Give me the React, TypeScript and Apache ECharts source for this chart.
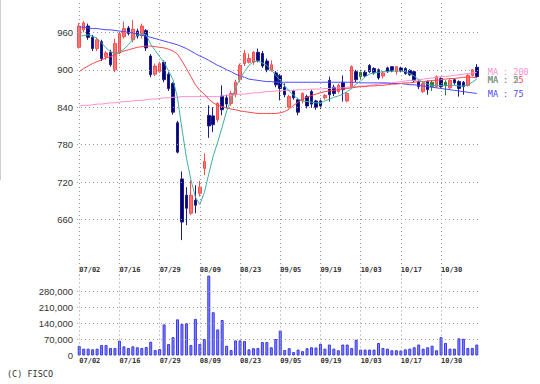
import React, { useEffect, useRef } from 'react';
import * as echarts from 'echarts';

const dates = [
  '07/02','07/03','07/04','07/05','07/08','07/09','07/10','07/11','07/12','07/16',
  '07/17','07/18','07/19','07/22','07/23','07/24','07/25','07/26','07/29','07/30',
  '07/31','08/01','08/02','08/05','08/06','08/07','08/08','08/09','08/13','08/14',
  '08/15','08/16','08/19','08/20','08/21','08/22','08/23','08/26','08/27','08/28',
  '08/29','08/30','09/02','09/03','09/04','09/05','09/06','09/09','09/10','09/11',
  '09/12','09/13','09/17','09/18','09/19','09/20','09/24','09/25','09/26','09/27',
  '09/30','10/01','10/02','10/03','10/04','10/07','10/08','10/09','10/10','10/11',
  '10/15','10/16','10/17','10/18','10/21','10/22','10/23','10/24','10/25','10/28',
  '10/29','10/30','10/31','11/01','11/05','11/06','11/07','11/08','11/11','11/12',
];

const opens = [
  936,964,970,952,934,945,921,928,900,928,
  953,967,948,962,955,963,922,893,897,912,
  893,878,815,725,699,670,691,702,742,827,
  826,820,858,855,846,860,884,910,912,912,
  928,926,914,899,895,891,872,840,866,852,
  850,857,865,850,850,855,883,872,865,880,
  850,873,897,896,896,907,902,900,890,903,
  905,897,903,902,899,897,881,865,881,880,
  873,886,880,871,884,881,880,875,891,904,
];
const closes = [
  970,975,952,934,948,918,927,908,942,958,
  966,958,965,954,970,935,892,906,910,884,
  870,832,768,656,678,699,683,712,753,810,
  812,846,836,845,862,880,907,926,918,928,
  915,906,900,908,876,870,860,857,855,832,
  862,842,845,840,842,859,860,862,875,868,
  862,905,884,889,890,897,895,887,895,897,
  898,905,898,894,892,883,873,878,868,873,
  889,873,874,883,879,870,873,891,900,889,
];
const lows = [
  934,960,948,930,930,914,916,905,896,925,
  950,955,944,950,950,930,888,890,895,880,
  866,828,766,627,651,667,670,697,731,791,
  800,816,827,838,842,856,880,906,910,908,
  912,903,896,897,872,851,856,838,852,827,
  846,838,839,836,837,852,849,858,862,849,
  848,870,880,885,888,895,892,884,886,895,
  896,892,896,892,890,880,869,863,860,866,
  871,871,859,869,876,857,860,873,889,887,
];
const highs = [
  975,978,974,956,952,948,930,932,950,962,
  977,970,980,966,974,965,925,910,913,915,
  896,880,818,737,712,723,715,722,766,843,
  840,848,875,860,866,884,910,932,926,930,
  934,930,918,915,898,893,878,860,868,855,
  864,860,868,852,854,861,889,876,878,891,
  864,907,900,900,899,909,904,902,897,905,
  906,906,905,904,901,899,883,880,883,882,
  891,888,883,885,886,883,882,893,901,909,
];
const greenDays = ['10/03', '10/28', '10/31'];

const volumes = [
  42000,30000,30000,27000,30000,46000,46000,33000,33000,65000,
  40000,33000,40000,36000,33000,37000,60000,24000,28000,136000,
  50000,80000,158000,138000,141000,46000,160000,50000,72000,349000,
  189000,114000,155000,43000,24000,66000,66000,63000,27000,32000,
  33000,59000,59000,36000,72000,109000,24000,32000,15000,26000,
  19000,32000,36000,35000,51000,30000,48000,30000,23000,48000,
  48000,33000,69000,26000,26000,26000,26000,55000,33000,30000,
  23000,23000,22000,27000,30000,36000,48000,30000,36000,43000,
  23000,80000,55000,30000,30000,75000,73000,33000,33000,48000,
];

const ma5 = [
  953,955,956,954,950,943,935,929,926,928,
  933,940,949,955,958,956,941,931,921,912,
  898,884,855,805,759,724,696,684,703,733,
  762,784,808,834,852,870,886,897,907,913,
  914,911,907,900,891,883,874,866,859,853,
  850,849,848,847,847,850,853,856,858,861,
  865,870,877,882,889,893,895,896,897,897,
  898,898,898,897,894,890,884,880,877,875,
  875,875,875,875,875,874,874,876,880,885,
];
const ma25 = [
  897,902,906,910,913,916,919,921,924,927,
  930,932,934,936,937,938,938,937,936,935,
  933,930,925,914,902,889,876,867,861,853,
  847,843,841,839,837,836,834,833,832,831,
  830,830,830,830,830,831,833,837,843,848,
  853,856,859,861,863,865,866,867,868,869,
  870,871,872,873,873,874,874,875,875,876,
  877,877,878,879,879,880,881,881,882,883,
  883,884,885,886,886,887,888,888,888,887,
];
const ma75 = [
  969,968,967,966,966,965,964,964,963,962,
  961,960,959,957,955,954,952,950,948,946,
  944,942,940,937,934,930,926,922,919,915,
  911,907,904,900,897,893,890,888,885,884,
  883,882,881,881,880,880,880,880,880,880,
  880,880,880,880,880,880,880,880,880,880,
  880,880,880,879,879,879,879,879,879,879,
  878,878,878,877,876,876,875,874,873,872,
  871,870,869,868,867,866,865,864,863,862,
];
const ma200 = [
  842,843,843,844,845,845,846,847,847,848,
  849,849,850,851,851,852,853,853,854,855,
  855,856,856,857,857,857,857,857,857,857,
  857,857,858,859,859,860,861,861,862,863,
  863,864,865,865,866,866,867,867,867,868,
  868,868,869,869,869,870,870,871,871,871,
  872,872,873,874,874,875,876,877,878,878,
  879,880,881,882,883,883,884,885,886,887,
  888,889,889,890,891,892,893,894,895,896,
];

const priceTicks = [660, 720, 780, 840, 900, 960];
const volumeTicks = [0, 70000, 140000, 210000, 280000];
const labelDates = ['07/02', '07/16', '07/29', '08/09', '08/23', '09/05', '09/19', '10/03', '10/17', '10/30'];

const GRID_LINE = { color: '#9a9a9a', type: [1, 3] as number[], width: 1 };
const AXIS_FONT = { fontFamily: 'Liberation Sans', fontSize: 9.5, color: '#333' };
const DATE_FONT = { fontFamily: 'DejaVu Sans Mono', fontSize: 7, fontWeight: 'bold' as const, color: '#333' };
const MA_FONT = { fontFamily: 'DejaVu Sans Mono', fontSize: 8.5 };

export default function App() {
  const ref = useRef<HTMLDivElement>(null);
  useEffect(() => {
    const chart = echarts.init(ref.current!, null, { renderer: 'svg', width: 540, height: 384 });
    const green = { color: '#2f7d32', color0: '#2f7d32', borderColor: '#2f7d32', borderColor0: '#2f7d32' };
    const candleData = dates.map((d, i) => {
      const item: any = { value: [opens[i], closes[i], lows[i], highs[i]] };
      if (greenDays.includes(d)) item.itemStyle = green;
      return item;
    });
    const maLine = (name: string, data: number[], color: string, label: string, dy: number) => ({
      type: 'line', name, data, xAxisIndex: 0, yAxisIndex: 0, showSymbol: false, symbol: 'none',
      lineStyle: { color, width: 1 }, z: 3,
      endLabel: { show: true, formatter: label, color, distance: 11, offset: [0, dy], ...MA_FONT },
    });
    const xCommon = {
      type: 'category', data: dates, boundaryGap: true,
      axisLine: { show: false }, axisTick: { show: false }, splitLine: { show: false },
    };
    const yHidden = {
      type: 'value', axisLine: { show: false }, axisTick: { show: false },
      axisLabel: { show: false }, splitLine: { show: false },
    };
    const option: any = {
      animation: false,
      backgroundColor: '#ffffff',
      grid: [
        { left: 77, top: 0, width: 402, height: 276 },
        { left: 77, top: 274, width: 402, height: 81.5 },
      ],
      xAxis: [
        { ...xCommon, gridIndex: 0,
          axisLabel: { inside: true, interval: (i: number) => i % 9 === 0, align: 'left', margin: 3, ...DATE_FONT } },
        { ...xCommon, gridIndex: 1,
          axisLabel: { interval: (i: number) => i % 9 === 0, align: 'left', margin: 2, ...DATE_FONT } },
      ],
      yAxis: [
        { ...yHidden, gridIndex: 0, min: 569.5, max: 1011.8 },
        { ...yHidden, gridIndex: 1, min: 0, max: 356000 },
      ],
      series: [
        {
          type: 'candlestick', xAxisIndex: 0, yAxisIndex: 0, data: candleData, barWidth: 3,
          itemStyle: { color: '#ff7373', color0: '#00007a', borderColor: '#ff4d4d', borderColor0: '#1c1c8a', borderWidth: 1 },
          markLine: {
            silent: true, symbol: ['none', 'none'], animation: false,
            lineStyle: GRID_LINE, label: { show: false },
            data: [
              ...priceTicks.map((v) => ({ yAxis: v, label: { show: true, position: 'start', distance: 4, formatter: String(v), ...AXIS_FONT } })),
              ...labelDates.map((d) => ({ xAxis: d })),
            ],
          },
        },
        maLine('MA200', ma200, '#ff8fcf', 'MA : 200', 0),
        maLine('MA75', ma75, '#4a4aff', 'MA : 75', 1),
        maLine('MA25', ma25, '#ff4848', 'MA : 25', 2),
        maLine('MA5', ma5, '#3fb0a4', 'MA : 5', 1),
        {
          type: 'bar', xAxisIndex: 1, yAxisIndex: 1, data: volumes, barWidth: 3,
          itemStyle: { color: '#8585ff', borderColor: '#3b3be6', borderWidth: 1 },
          markLine: {
            silent: true, symbol: ['none', 'none'], animation: false,
            lineStyle: GRID_LINE, label: { show: false },
            data: [
              ...volumeTicks.map((v) => ({
                yAxis: v,
                lineStyle: v === 0 ? { ...GRID_LINE, color: 'rgba(0,0,0,0)' } : GRID_LINE,
                label: { show: true, position: 'start', distance: 4, formatter: v.toLocaleString('en-US'), ...AXIS_FONT },
              })),
              ...labelDates.map((d) => ({ xAxis: d })),
            ],
          },
        },
      ],
      graphic: [
        { type: 'rect', left: 0, top: 0, shape: { width: 1, height: 180 }, style: { fill: '#cfcfcf' }, silent: true },
        { type: 'text', left: 7, top: 369, style: { text: '(C) FISCO', fill: '#333', font: '8.5px "DejaVu Sans Mono"' }, silent: true },
      ],
    };
    chart.setOption(option);
    return () => chart.dispose();
  }, []);
  return <div ref={ref} style={{ position: 'absolute', left: 0, top: 0, width: 540, height: 384, background: '#fff' }} />;
}
